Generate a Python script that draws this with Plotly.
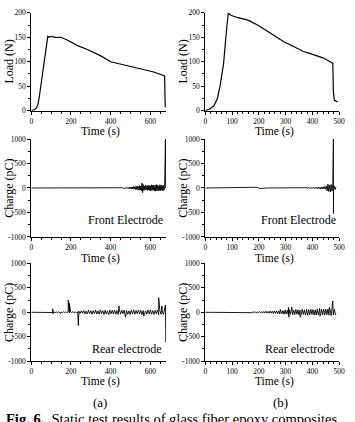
import plotly.graph_objects as go

# ---------------- data ----------------
# Load curves
load_a_t = [0, 15, 25, 33, 40, 50, 60, 70, 78, 83, 90, 100, 120, 150, 183, 233, 283, 350, 400, 483, 550, 617, 672, 674, 675]
load_a_n = [0, 2, 5, 12, 28, 55, 85, 115, 140, 152, 150, 152, 150, 150, 144, 133, 125, 112, 100, 92, 85, 79, 71, 30, 7]

load_b_t = [0, 15, 32, 45, 55, 68, 80, 86, 95, 104, 122, 159, 195, 244, 293, 341, 366, 390, 439, 463, 476, 478, 482, 494]
load_b_n = [0, 3, 10, 25, 50, 95, 170, 200, 195, 193, 190, 185, 175, 158, 141, 128, 121, 117, 108, 101, 97, 40, 21, 18]

# Front electrode (a): quiet part (every 12 s), noisy part (every 3 s from 480 s), final spike
front_a_quiet = [0, 0, 0, 0, 0, 0, 0, 0, 0, 0, 0, 0, 5, -5, 0, 0, 0, 0, 0, 0,
                 0, 0, 0, 0, 0, 0, 0, 0, 5, -5, 0, 0, 0, 0, 6, -6, 8, -6, 5, -8]
front_a_noise = [5, -8, 10, -12, 8, -15, 20, -10, 15, -25, 20, -18, 30, -22, 25, -30, 35, -28, 40, -35,
                 30, -45, 50, -40, 35, -60, 100, -95, 70, -50, 40, -45, 55, -35, 45, -50, 60, -40, 50, -55,
                 45, -60, 65, -45, 55, -50, 60, -55, 50, -65, 70, -50, 55, -60, 45, -50, 65, -55, 60, -45,
                 50, -60, 55, -40, 30]
front_a_spike_t = [676, 677]
front_a_spike_q = [1000, 0]

# Rear electrode (a): quiet part (every 6 s), noisy part (every 6 s from 240 s), spikes
rear_a_quiet = [0, 0, 0, 0, 0, 0, 0, 0, 0, 0, 0, 0, 0, 0, 0, 0, 0, 5, -5, 10,
                -8, 5, -10, 8, -5, 5, -8, 10, -10, 8, -5, 12, -15, 10, -8, 15, -12, 10, -15, 12]
rear_a_noise = [20, -25, 30, -20, 35, -30, 25, -35, 40, -25, 30, -40, 35, -30, 45, -35, 30, -40, 50, -30,
                35, -45, 40, -35, 30, -50, 45, -30, 40, -35, 45, -40, 35, -45, 50, -35, 40, -30, 45, -50,
                35, -40, 30, -45, 40, -35, 50, -40, 35, -30, 45, -35, 40, -50, 35, -45, 30, -40, 45, -35,
                50, -40, 35, -45, 40, -30, 45, -50, 35, -40, 30, -45, 40]
rear_a_spike_t = [108, 109, 147, 186, 192, 237, 442, 475, 567, 642, 658, 676, 678]
rear_a_spike_q = [70, -30, -30, 250, 180, -270, 130, -100, -80, 300, 130, 150, -620]

# Front electrode (b)
front_b_quiet = [0, 0, 0, 0, 0, 0, 0, 0, 0, 0, 0, 0, 0, 0, 0, 0, 15, -10, 0, 0,
                 0, 0, 0, 0, 0, 0, 0, 0, 0, 0]
front_b_noise = [3, -4, 5, -3, 6, -5, 4, -6, 8, -5, 6, -8, 10, -6, 8, -10, 12, -8, 10, -12,
                 14, -10, 12, -15, 18, -12, 15, -18, 20, -15, 25, -20, 30, -25, 40, -60, 80, -70, 60, -80,
                 75, -65, 70, -50, 40, -30, 20]
front_b_spike_t = [478.2, 478.6]
front_b_spike_q = [1000, -520]

# Rear electrode (b)
rear_b_quiet = [0, 0, 0, 0, 0, 0, 0, 0, 0, 0, 0, 0, 0, 0, 0, 0, 0, 0, 0, 0,
                0, 0, 5, -5, 0, 0, 0, 5, -5]
rear_b_noise = [5, -8, 10, -6, 12, -10, 8, -12, 15, -10, 12, -15, 18, -12, 20, -15, 18, -20, 25, -18,
                22, -25, 30, -20, 28, -30, 25, -35, 40, -30, 35, -40, 45, -35, 40, -45, 50, -40, 45, -50,
                40, -45, 55, -40, 50, -55, 45, -50, 60, -45, 50, -55, 45, -60, 55, -50, 60, -45, 55, -60,
                50, -55, 60, -50, 55, -65, 60, -50, 65, -55, 60, -50, 65, -60, 55, -65, 70, -55, 60, -50]
rear_b_spike_t = [280, 311, 312, 323, 354, 378, 427, 428, 463, 476, 488]
rear_b_spike_q = [60, 100, -100, 110, -100, 60, 80, -80, 100, 230, -30]

load_ticks = [0, 50, 100, 150, 200]
charge_ticks = [-1000, -500, 0, 500, 1000]
time_ticks_a = [0, 200, 400, 600]
time_ticks_b = [0, 100, 200, 300, 400, 500]


def build(quiet, q_step, noise, n_start, n_step, spike_t, spike_q):
    pts = [(i * q_step, v) for i, v in enumerate(quiet)]
    pts += [(n_start + i * n_step, v) for i, v in enumerate(noise)]
    pts += list(zip(spike_t, spike_q))
    pts.sort(key=lambda p: p[0])
    return [p[0] for p in pts], [p[1] for p in pts]


fa_t, fa_q = build(front_a_quiet, 12, front_a_noise, 480, 3, front_a_spike_t, front_a_spike_q)
ra_t, ra_q = build(rear_a_quiet, 6, rear_a_noise, 240, 6, rear_a_spike_t, rear_a_spike_q)
fb_t, fb_q = build(front_b_quiet, 12, front_b_noise, 350, 3, front_b_spike_t, front_b_spike_q)
rb_t, rb_q = build(rear_b_quiet, 6, rear_b_noise, 170, 4, rear_b_spike_t, rear_b_spike_q)

# ---------------- figure ----------------
W, H = 355, 422
FONT = "Liberation Serif, Times New Roman, serif"

fig = go.Figure()
series = [
    (load_a_t, load_a_n, 1, 1.2), (load_b_t, load_b_n, 2, 1.2),
    (fa_t, fa_q, 3, 0.9), (fb_t, fb_q, 4, 0.9),
    (ra_t, ra_q, 5, 0.9), (rb_t, rb_q, 6, 0.9),
]
for x, y, k, lw in series:
    sfx = "" if k == 1 else str(k)
    fig.add_trace(go.Scatter(x=x, y=y, mode="lines", line=dict(color="black", width=lw),
                             xaxis="x" + sfx, yaxis="y" + sfx, showlegend=False, hoverinfo="skip"))

col_px = [(30, 168), (208, 345)]
row_px = [(9, 109), (138, 238), (265, 365)]
xr = [[0, 680], [0, 500]]

axis_common = dict(showline=True, linecolor="black", linewidth=1, ticks="outside", ticklen=3,
                   tickwidth=1, tickcolor="black", showgrid=False, zeroline=False,
                   tickfont=dict(family=FONT, size=7.5, color="black"), fixedrange=True)

layout = dict(width=W, height=H, margin=dict(l=0, r=0, t=0, b=0),
              paper_bgcolor="white", plot_bgcolor="white", showlegend=False)

for r in range(3):
    for c in range(2):
        k = r * 2 + c + 1
        sfx = "" if k == 1 else str(k)
        x0, x1 = col_px[c]
        y0, y1 = row_px[r]
        xticks = time_ticks_a if c == 0 else time_ticks_b
        xa = dict(axis_common, domain=[x0 / W, x1 / W], range=xr[c], anchor="y" + sfx,
                  tickvals=xticks, ticktext=[str(v) for v in xticks], ticklabelstandoff=0,
                  minor=dict(ticks="outside", ticklen=2, dtick=(50 if c == 0 else 20),
                             tickcolor="black"))
        yt = load_ticks if r == 0 else charge_ticks
        ya = dict(axis_common, domain=[1 - y1 / H, 1 - y0 / H],
                  range=[0, 200] if r == 0 else [-1000, 1000], anchor="x" + sfx,
                  tickvals=yt, ticktext=[str(v) for v in yt],
                  minor=dict(ticks="outside", ticklen=2, dtick=(25 if r == 0 else 250),
                             tickcolor="black"))
        layout["xaxis" + sfx] = xa
        layout["yaxis" + sfx] = ya

fig.update_layout(**layout)

ann = []


def txt(x, y, s, size=12, angle=0, xanchor="center", yanchor="middle"):
    ann.append(dict(x=x / W, y=1 - y / H, xref="paper", yref="paper", text=s, showarrow=False,
                    textangle=angle, xanchor=xanchor, yanchor=yanchor,
                    font=dict(family=FONT, size=size, color="black")))


time_y = [130, 260, 386]
ylab_y = [59, 188, 315]
for c in range(2):
    x0, x1 = col_px[c]
    for r in range(3):
        txt((x0 + x1) / 2 + 2, time_y[r], "Time (s)", 11.5)
        txt(x0 - 23, ylab_y[r], "Load (N)" if r == 0 else "Charge (pC)", 12, angle=-90)
    txt(x1 - 1, 221, "Front Electrode", 12, xanchor="right")
    txt(x1 - 2, 353, "Rear electrode", 12, xanchor="right")

txt(100, 407, "(a)", 13)
txt(285, 407, "(b)", 13)
txt(2, 414, "<b>Fig. 6.</b>  Static test results of glass fiber epoxy composites", 14.5,
    xanchor="left", yanchor="top")

fig.update_layout(annotations=ann)
fig.write_html("out.html")
